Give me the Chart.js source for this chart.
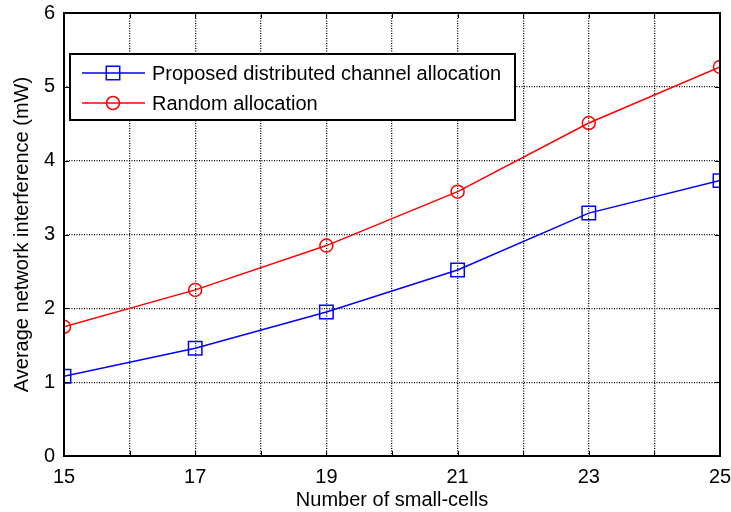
<!DOCTYPE html>
<html>
<head>
<meta charset="utf-8">
<script src="https://cdn.jsdelivr.net/npm/chart.js@4/dist/chart.umd.min.js"></script>
<style>
html,body{margin:0;padding:0;background:#fff;}
#wrap{width:731px;height:512px;position:relative;}
</style>
</head>
<body>
<div id="wrap"><canvas id="c" width="731" height="512"></canvas></div>
<script>
const smallCells = [15, 17, 19, 21, 23, 25];
const proposedValues = [1.08, 1.46, 1.95, 2.52, 3.29, 3.73];
const randomValues = [1.75, 2.25, 2.85, 3.58, 4.51, 5.27];
const seriesNames = ['Proposed distributed channel allocation', 'Random allocation'];
const xTitle = 'Number of small-cells';
const yTitle = 'Average network interference (mW)';

const FONT = 'Liberation Sans, Arial, sans-serif';
const FS = 20;
const TARGET = {left: 64, top: 13, right: 720, bottom: 456};

function zeroPad(s) {
  s.paddingTop = 0; s.paddingBottom = 0; s.paddingLeft = 0; s.paddingRight = 0;
}

const framePlugin = {
  id: 'frame',
  afterDraw(chart) {
    const ctx = chart.ctx;
    const a = chart.chartArea;
    const xs = chart.scales.x, ys = chart.scales.y;
    ctx.save();
    ctx.strokeStyle = '#000';
    ctx.lineWidth = 2;
    ctx.setLineDash([]);
    ctx.strokeRect(a.left, a.top, a.right - a.left, a.bottom - a.top);
    ctx.lineWidth = 1;
    const tl = 5;
    xs.ticks.forEach(t => {
      const px = Math.round(xs.getPixelForValue(t.value)) + 0.5;
      ctx.beginPath();
      ctx.moveTo(px, a.bottom); ctx.lineTo(px, a.bottom - tl);
      ctx.moveTo(px, a.top); ctx.lineTo(px, a.top + tl);
      ctx.stroke();
    });
    ys.ticks.forEach(t => {
      const py = Math.round(ys.getPixelForValue(t.value)) + 0.5;
      ctx.beginPath();
      ctx.moveTo(a.left, py); ctx.lineTo(a.left + tl, py);
      ctx.moveTo(a.right, py); ctx.lineTo(a.right - tl, py);
      ctx.stroke();
    });
    const bx = 70, by = 54, bw = 445, bh = 66;
    ctx.fillStyle = '#fff';
    ctx.fillRect(bx, by, bw, bh);
    ctx.lineWidth = 2;
    ctx.strokeRect(bx, by, bw, bh);
    const rows = [73, 103];
    chart.data.datasets.forEach((ds, i) => {
      const y = rows[i];
      ctx.strokeStyle = ds.borderColor;
      ctx.lineWidth = ds.borderWidth;
      ctx.beginPath();
      ctx.moveTo(82, y); ctx.lineTo(145, y);
      ctx.stroke();
      ctx.beginPath();
      if (ds.pointStyle === 'rect') {
        const s = ds.pointRadius * Math.SQRT1_2;
        ctx.rect(113 - s, y - s, 2 * s, 2 * s);
      } else {
        ctx.arc(113, y, ds.pointRadius, 0, Math.PI * 2);
      }
      ctx.stroke();
      ctx.fillStyle = '#000';
      ctx.font = FS + 'px ' + FONT;
      ctx.textBaseline = 'middle';
      ctx.textAlign = 'left';
      ctx.fillText(ds.label, 152, y + 1);
    });
    ctx.restore();
  }
};

const chart = new Chart(document.getElementById('c'), {
  type: 'line',
  data: {
    datasets: [
      {
        label: seriesNames[0],
        data: smallCells.map((x, i) => ({x: x, y: proposedValues[i]})),
        borderColor: '#0000ff',
        backgroundColor: 'rgba(0,0,0,0)',
        borderWidth: 1.5,
        pointStyle: 'rect',
        pointRadius: 9.5,
        pointBorderWidth: 1.5,
        pointBackgroundColor: 'rgba(0,0,0,0)',
        tension: 0
      },
      {
        label: seriesNames[1],
        data: smallCells.map((x, i) => ({x: x, y: randomValues[i]})),
        borderColor: '#ff0000',
        backgroundColor: 'rgba(0,0,0,0)',
        borderWidth: 1.5,
        pointStyle: 'circle',
        pointRadius: 6.5,
        pointBorderWidth: 1.5,
        pointBackgroundColor: 'rgba(0,0,0,0)',
        tension: 0
      }
    ]
  },
  options: {
    responsive: false,
    animation: false,
    layout: {padding: {top: 13, right: 11, left: 0, bottom: 0}},
    plugins: {legend: {display: false}, tooltip: {enabled: false}},
    elements: {point: {hoverRadius: 0}},
    scales: {
      x: {
        type: 'linear',
        min: 15, max: 25,
        afterFit(s) { s.height = 56; zeroPad(s); },
        ticks: {
          stepSize: 1,
          autoSkip: false,
          maxRotation: 0,
          padding: 9,
          color: '#000',
          font: {family: FONT, size: FS},
          callback: v => (v % 2 === 1 ? String(v) : '')
        },
        grid: {color: '#000', lineWidth: 1.3, drawTicks: false},
        border: {display: false, dash: [1, 1.5]},
        title: {display: true, text: xTitle, color: '#000', font: {family: FONT, size: FS}, padding: {top: 4, bottom: 0}}
      },
      y: {
        type: 'linear',
        min: 0, max: 6,
        afterFit(s) { s.width = 64; zeroPad(s); },
        ticks: {
          stepSize: 1,
          padding: 9,
          color: '#000',
          font: {family: FONT, size: FS}
        },
        grid: {color: '#000', lineWidth: 1.3, drawTicks: false},
        border: {display: false, dash: [1, 1.5]},
        title: {display: true, text: yTitle, color: '#000', font: {family: FONT, size: FS}, padding: {top: 10, bottom: 0}}
      }
    }
  },
  plugins: [framePlugin]
});

// nudge layout padding so the plot area lands where the reference has it
for (let k = 0; k < 3; k++) {
  const a = chart.chartArea;
  const p = chart.options.layout.padding;
  p.top += TARGET.top - a.top;
  p.left += TARGET.left - a.left;
  p.right += a.right - TARGET.right;
  p.bottom += a.bottom - TARGET.bottom;
  chart.update('none');
}
</script>
</body>
</html>
